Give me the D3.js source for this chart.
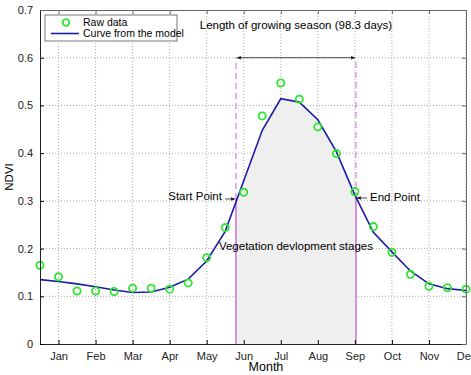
<!DOCTYPE html>
<html>
<head>
<meta charset="utf-8">
<script src="https://cdn.jsdelivr.net/npm/d3@7"></script>
<style>
  body { margin: 0; background: #fff; }
  text { font-family: "Liberation Sans", Arial, sans-serif; }
</style>
</head>
<body>
<div id="chart"></div>
<script>
// Month positions of the 16-day composites (Jan = 1)
const months = [0.5, 1, 1.5, 2, 2.5, 3, 3.5, 4, 4.5, 5, 5.5, 6,
                6.5, 7, 7.5, 8, 8.5, 9, 9.5, 10, 10.5, 11, 11.5, 12];
const rawData = [0.165, 0.141, 0.111, 0.111, 0.110, 0.117, 0.117, 0.115, 0.128, 0.181, 0.244, 0.318,
                 0.478, 0.547, 0.513, 0.455, 0.399, 0.319, 0.246, 0.192, 0.146, 0.121, 0.118, 0.115];
const modelData = [0.135, 0.131, 0.126, 0.120, 0.113, 0.108, 0.109, 0.119, 0.136, 0.174, 0.236, 0.342,
                   0.448, 0.514, 0.507, 0.470, 0.403, 0.312, 0.234, 0.193, 0.153, 0.126, 0.116, 0.112];
const monthLabels = ["Jan", "Feb", "Mar", "Apr", "May", "Jun", "Jul", "Aug", "Sep", "Oct", "Nov", "Dec"];
const yTicks = [0, 0.1, 0.2, 0.3, 0.4, 0.5, 0.6, 0.7];
const startPoint = { month: 5.79, ndvi: 0.304 };
const endPoint = { month: 9.03, ndvi: 0.306 };
const seasonLevel = 0.6;

const margin = { top: 10, right: 5, bottom: 31, left: 40 };
const width = 471 - margin.left - margin.right;
const height = 375 - margin.top - margin.bottom;

const x = d3.scaleLinear().domain([0.5, 12]).range([0, width]);
const y = d3.scaleLinear().domain([0, 0.7]).range([height, 0]);

const svg = d3.select("#chart")
    .append("svg")
    .attr("width", 471)
    .attr("height", 375);

svg.append("defs").append("marker")
    .attr("id", "arrow")
    .attr("viewBox", "0 0 10 10")
    .attr("refX", 9).attr("refY", 5)
    .attr("markerWidth", 6).attr("markerHeight", 6)
    .attr("orient", "auto-start-reverse")
    .append("path")
    .attr("d", "M0,1 L10,5 L0,9 z")
    .attr("fill", "#222");

const g = svg.append("g")
    .attr("transform", `translate(${margin.left},${margin.top})`);

const points = months.map((m, i) => ({ month: m, raw: rawData[i], model: modelData[i] }));

// Dotted grid
g.append("g").selectAll("line")
    .data(d3.range(1, 13))
    .join("line")
    .attr("x1", d => x(d)).attr("x2", d => x(d))
    .attr("y1", 0).attr("y2", height)
    .attr("stroke", "#aaa")
    .attr("stroke-dasharray", "1,2");

g.append("g").selectAll("line")
    .data(yTicks.slice(1, -1))
    .join("line")
    .attr("x1", 0).attr("x2", width)
    .attr("y1", d => y(d)).attr("y2", d => y(d))
    .attr("stroke", "#aaa")
    .attr("stroke-dasharray", "1,2");

// Shaded growing season
const inside = points.filter(d => d.month > startPoint.month && d.month < endPoint.month);
const areaPts = [{ month: startPoint.month, model: startPoint.ndvi }]
    .concat(inside)
    .concat([{ month: endPoint.month, model: endPoint.ndvi }]);

g.append("path")
    .datum(areaPts)
    .attr("fill", "#efefef")
    .attr("d", d3.area().x(d => x(d.month)).y0(y(0)).y1(d => y(d.model)));

// Start / end vertical markers
[startPoint, endPoint].forEach(p => {
    g.append("line")
        .attr("x1", x(p.month)).attr("x2", x(p.month))
        .attr("y1", y(0)).attr("y2", y(p.ndvi))
        .attr("stroke", "#c050c8").attr("stroke-width", 1.2);
    g.append("line")
        .attr("x1", x(p.month)).attr("x2", x(p.month))
        .attr("y1", y(p.ndvi)).attr("y2", y(seasonLevel))
        .attr("stroke", "#d880d8").attr("stroke-width", 1.2)
        .attr("stroke-dasharray", "6,4");
});

// Season length arrow
g.append("line")
    .attr("x1", x(startPoint.month) + 1).attr("x2", x(endPoint.month) - 1)
    .attr("y1", y(seasonLevel)).attr("y2", y(seasonLevel))
    .attr("stroke", "#222").attr("stroke-width", 0.8)
    .attr("marker-start", "url(#arrow)")
    .attr("marker-end", "url(#arrow)");

g.append("text")
    .attr("x", (x(startPoint.month) + x(endPoint.month)) / 2)
    .attr("y", y(0.66))
    .attr("text-anchor", "middle")
    .attr("font-size", "11.5px")
    .text("Length of growing season (98.3 days)");

// Model curve
g.append("path")
    .datum(points)
    .attr("fill", "none")
    .attr("stroke", "#1c1ca6")
    .attr("stroke-width", 1.6)
    .attr("d", d3.line().x(d => x(d.month)).y(d => y(d.model)));

// Raw data circles
g.append("g").selectAll("circle")
    .data(points)
    .join("circle")
    .attr("cx", d => x(d.month))
    .attr("cy", d => y(d.raw))
    .attr("r", 3.6)
    .attr("fill", "none")
    .attr("stroke", "#2ee62e")
    .attr("stroke-width", 1.8);

// Start / End point annotations
g.append("line")
    .attr("x1", x(startPoint.month) - 11).attr("x2", x(startPoint.month) - 1)
    .attr("y1", y(startPoint.ndvi)).attr("y2", y(startPoint.ndvi))
    .attr("stroke", "#222").attr("stroke-width", 0.8)
    .attr("marker-end", "url(#arrow)");
g.append("text")
    .attr("x", x(startPoint.month) - 14)
    .attr("y", y(startPoint.ndvi) + 1)
    .attr("text-anchor", "end")
    .attr("font-size", "11.5px")
    .text("Start Point");

g.append("line")
    .attr("x1", x(endPoint.month) + 11).attr("x2", x(endPoint.month) + 1)
    .attr("y1", y(endPoint.ndvi)).attr("y2", y(endPoint.ndvi))
    .attr("stroke", "#222").attr("stroke-width", 0.8)
    .attr("marker-end", "url(#arrow)");
g.append("text")
    .attr("x", x(endPoint.month) + 14)
    .attr("y", y(endPoint.ndvi) + 3)
    .attr("font-size", "11.5px")
    .text("End Point");

g.append("text")
    .attr("x", (x(startPoint.month) + x(endPoint.month)) / 2)
    .attr("y", y(0.2) + 1)
    .attr("text-anchor", "middle")
    .attr("font-size", "11.5px")
    .text("Vegetation devlopment stages");

// Axes (ticks inside, MATLAB style)
g.append("g")
    .attr("transform", `translate(0,${height})`)
    .call(d3.axisBottom(x).tickValues(d3.range(1, 13))
        .tickFormat(d => monthLabels[d - 1])
        .tickSizeInner(-4).tickSizeOuter(0).tickPadding(8))
    .call(a => a.select(".domain").attr("stroke", "#222"))
    .call(a => a.selectAll("text").attr("font-size", "11px").attr("fill", "#222"));

g.append("g")
    .call(d3.axisLeft(y).tickValues(yTicks)
        .tickFormat(d3.format("~g"))
        .tickSizeInner(-4).tickSizeOuter(0).tickPadding(7))
    .call(a => a.select(".domain").attr("stroke", "#222"))
    .call(a => a.selectAll("text").attr("font-size", "11px").attr("fill", "#222"));

g.append("g")
    .call(d3.axisTop(x).tickValues(d3.range(1, 13)).tickFormat("")
        .tickSizeInner(-4).tickSizeOuter(0))
    .call(a => a.selectAll("line, path").attr("stroke", "#666"));

g.append("g")
    .attr("transform", `translate(${width},0)`)
    .call(d3.axisRight(y).tickValues(yTicks).tickFormat("")
        .tickSizeInner(-4).tickSizeOuter(0))
    .call(a => a.selectAll("line, path").attr("stroke", "#666"));

// Axis titles
svg.append("text")
    .attr("x", margin.left + x(6.6))
    .attr("y", 371)
    .attr("text-anchor", "middle")
    .attr("font-size", "12.5px")
    .text("Month");

svg.append("text")
    .attr("transform", `translate(13,${margin.top + height / 2}) rotate(-90)`)
    .attr("text-anchor", "middle")
    .attr("font-size", "11.5px")
    .text("NDVI");

// Legend
const legend = g.append("g").attr("transform", "translate(5,5)");
legend.append("rect")
    .attr("width", 132).attr("height", 26)
    .attr("fill", "#fff").attr("stroke", "#555").attr("stroke-width", 0.8);
legend.append("circle")
    .attr("cx", 21).attr("cy", 7.5).attr("r", 3.3)
    .attr("fill", "none").attr("stroke", "#2ee62e").attr("stroke-width", 1.8);
legend.append("text").attr("x", 38).attr("y", 11).attr("font-size", "10.5px").text("Raw data");
legend.append("line")
    .attr("x1", 6).attr("x2", 34).attr("y1", 18.5).attr("y2", 18.5)
    .attr("stroke", "#1c1ca6").attr("stroke-width", 1.6);
legend.append("text").attr("x", 38).attr("y", 22).attr("font-size", "10.5px").text("Curve from the model");
</script>
</body>
</html>
